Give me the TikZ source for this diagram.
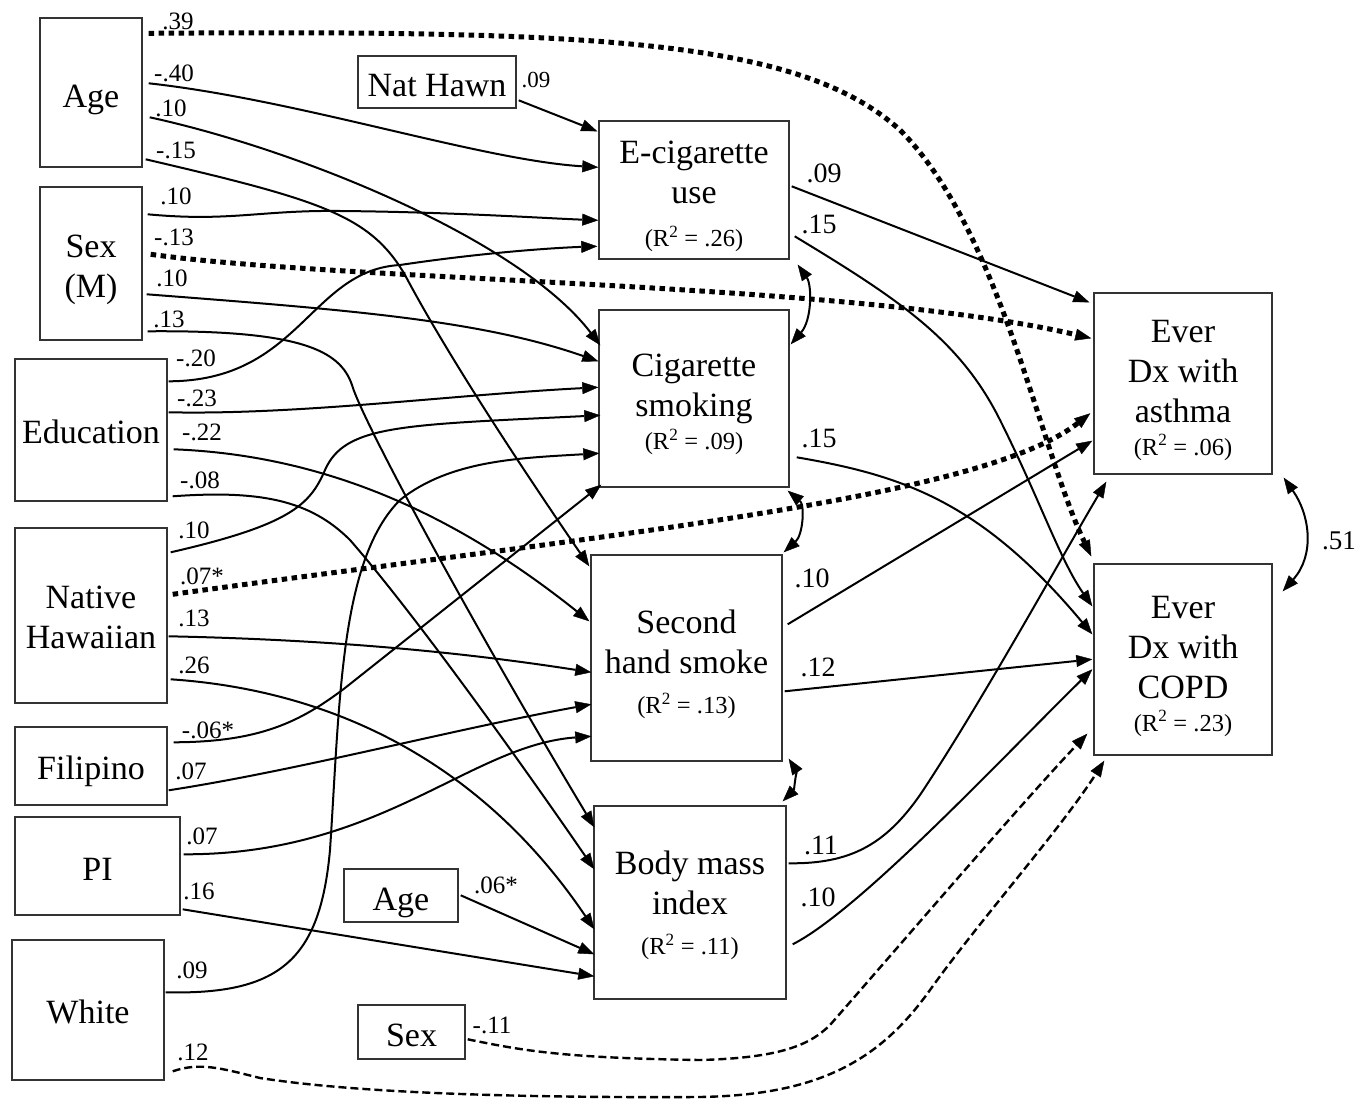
\documentclass[tikz,border=0pt]{standalone}
\usepackage{fontspec}
\setmainfont{Liberation Serif}
\usetikzlibrary{arrows.meta}
\newcommand{\bxf}{\fontsize{34}{40}\selectfont}
\newcommand{\rsqf}{\fontsize{24.5}{34}\selectfont}
\newcommand{\lsf}{\fontsize{25}{28}\selectfont}
\newcommand{\rlf}{\fontsize{28}{32}\selectfont}
\newcommand{\rsqtxt}[1]{{\rsqf (R\textsuperscript{2} = #1)}}
\tikzset{
  >={Triangle[length=16pt,width=12pt,line width=0.4pt]},
  box/.style={draw=black!80, line width=1.4pt, inner sep=0pt},
  btxt/.style={align=center, font=\bxf, inner sep=0pt},
  lab/.style={font=\lsf, inner sep=0pt},
  rlab/.style={font=\rlf, inner sep=0pt},
  conn/.style={line width=2pt, ->},
  dotc/.style={line width=5pt, dash pattern=on 5.5pt off 4.5pt, ->},
  dashc/.style={line width=2.4pt, dash pattern=on 8pt off 4pt, ->},
  bid/.style={line width=2pt, <->}
}
\begin{document}
\begin{tikzpicture}[x=1pt,y=-1pt]
\useasboundingbox (0,0) rectangle (1369,1099);
\fill[white] (0,0) rectangle (1369,1099);

% ---------- boxes ----------
\node[box,minimum width=102pt,minimum height=149pt] (ageA) at (91,92.5) {};
\node[box,minimum width=102pt,minimum height=153pt] (sexA) at (91,263.5) {};
\node[box,minimum width=152pt,minimum height=142pt] (edu) at (91,430) {};
\node[box,minimum width=152pt,minimum height=175pt] (nh) at (91,615.5) {};
\node[box,minimum width=152pt,minimum height=78pt] (fil) at (91,766) {};
\node[box,minimum width=165pt,minimum height=98pt] (pi) at (97.5,866) {};
\node[box,minimum width=152pt,minimum height=140pt] (white) at (88,1010) {};
\node[box,minimum width=158pt,minimum height=52pt] (nathawn) at (437,82) {};
\node[box,minimum width=114pt,minimum height=53pt] (ageB) at (401,895.5) {};
\node[box,minimum width=107pt,minimum height=54pt] (sexB) at (411.5,1032) {};
\node[box,minimum width=190pt,minimum height=138pt] (ecig) at (694,190) {};
\node[box,minimum width=190pt,minimum height=177pt] (cig) at (694,398.5) {};
\node[box,minimum width=191pt,minimum height=206pt] (shs) at (686.5,658) {};
\node[box,minimum width=192pt,minimum height=193pt] (bmi) at (690,902.5) {};
\node[box,minimum width=178pt,minimum height=181pt] (asthma) at (1183,383.5) {};
\node[box,minimum width=178pt,minimum height=191pt] (copd) at (1183,659.5) {};

% ---------- box texts ----------
\node[btxt] (ageAt) at ([shift={(0,7)}]ageA.center) {Age};
\node[btxt] (sexAt) at ([shift={(0,6)}]sexA.center) {Sex\\(M)};
\node[btxt] (edut) at ([shift={(0,2)}]edu.center) {Education};
\node[btxt] (nht) at ([shift={(0,2)}]nh.center) {Native\\Hawaiian};
\node[btxt] (filt) at ([shift={(0,5)}]fil.center) {Filipino};
\node[btxt] (pit) at ([shift={(0,3)}]pi.center) {PI};
\node[btxt] (whitet) at ([shift={(0,2)}]white.center) {White};
\node[btxt] (nathawnt) at ([shift={(0,4)}]nathawn.center) {Nat Hawn};
\node[btxt] (ageBt) at ([shift={(0,7)}]ageB.center) {Age};
\node[btxt] (sexBt) at ([shift={(0,3)}]sexB.center) {Sex};
\node[btxt] (ecigt) at ([shift={(0,6.5)}]ecig.center) {E-cigarette\\use\\[3pt]\rsqtxt{.26}};
\node[btxt] (cigt) at ([shift={(0,5.5)}]cig.center) {Cigarette\\smoking\\[-7pt]\rsqtxt{.09}};
\node[btxt] (shst) at ([shift={(0,6)}]shs.center) {Second\\hand smoke\\\rsqtxt{.13}};
\node[btxt] (bmit) at ([shift={(0,3)}]bmi.center) {Body mass\\index\\\rsqtxt{.11}};
\node[btxt] (asthmat) at ([shift={(0,6.5)}]asthma.center) {Ever\\Dx with\\asthma\\[-7pt]\rsqtxt{.06}};
\node[btxt] (copdt) at ([shift={(0,6.5)}]copd.center) {Ever\\Dx with\\COPD\\[-7pt]\rsqtxt{.23}};

% ---------- Age ----------
\draw[dotc] ([shift={(6,16)}]ageA.north east) .. controls (600,30) and (800,40) .. (900,130) .. controls (1000,230) and (1040,450) .. ([shift={(-2,-7)}]copd.north west);
\draw[conn] ([shift={(6,66)}]ageA.north east) .. controls (300,100) and (480,160) .. ([shift={(0,47)}]ecig.north west);
\draw[conn] ([shift={(7,100)}]ageA.north east) .. controls (300,150) and (520,240) .. ([shift={(2,36)}]cig.north west);
\draw[conn] ([shift={(3,142)}]ageA.north east) .. controls (320,200) and (370,215) .. (405,275) .. controls (450,360) and (530,480) .. ([shift={(-1,12)}]shs.north west);

% ---------- Sex (M) ----------
\draw[conn] ([shift={(5,28)}]sexA.north east) .. controls (230,222) and (260,210) .. (340,211) .. controls (450,212) and (540,218) .. ([shift={(0,100)}]ecig.north west);
\draw[dotc] ([shift={(8,68)}]sexA.north east) .. controls (350,282) and (850,282) .. ([shift={(-2,46)}]asthma.north west);
\draw[conn] ([shift={(4,108)}]sexA.north east) .. controls (350,310) and (480,320) .. ([shift={(0,52)}]cig.north west);
\draw[conn] ([shift={(5,145)}]sexA.north east) .. controls (300,330) and (340,350) .. (352,385) .. controls (362,420) and (470,620) .. ([shift={(1,22)}]bmi.north west);

% ---------- Education ----------
\draw[conn] ([shift={(1,23)}]edu.north east) .. controls (300,381) and (310,270) .. (400,265) .. controls (480,253) and (550,248) .. ([shift={(-1,126)}]ecig.north west);
\draw[conn] ([shift={(1,54)}]edu.north east) .. controls (300,415) and (450,395) .. ([shift={(0,78)}]cig.north west);
\draw[conn] ([shift={(6,91)}]edu.north east) .. controls (320,455) and (450,510) .. ([shift={(-1,67)}]shs.north west);
\draw[conn] ([shift={(5,138)}]edu.north east) .. controls (260,490) and (310,500) .. (350,540) .. controls (420,620) and (540,790) .. ([shift={(1,64)}]bmi.north west);

% ---------- Native Hawaiian ----------
\draw[conn] ([shift={(3,25)}]nh.north east) .. controls (290,525) and (310,505) .. (325,470) .. controls (345,425) and (400,425) .. ([shift={(2,106)}]cig.north west);
\draw[dotc] ([shift={(5,67)}]nh.north east) .. controls (600,535) and (980,500) .. ([shift={(-3,121)}]asthma.north west);
\draw[conn] ([shift={(1,109)}]nh.north east) .. controls (350,640) and (480,655) .. ([shift={(1,118)}]shs.north west);
\draw[conn] ([shift={(3,152)}]nh.north east) .. controls (330,690) and (480,760) .. ([shift={(1,124)}]bmi.north west);

% ---------- Filipino ----------
\draw[conn] ([shift={(6,16)}]fil.north east) .. controls (260,742) and (300,722) .. (345,688) -- ([shift={(3,-3)}]cig.south west);
\draw[conn] ([shift={(1,64)}]fil.north east) .. controls (300,770) and (450,730) .. ([shift={(1,150)}]shs.north west);

% ---------- PI ----------
\draw[conn] ([shift={(3,38)}]pi.north east) .. controls (380,855) and (470,745) .. ([shift={(1,182)}]shs.north west);
\draw[conn] ([shift={(2,93)}]pi.north east) -- ([shift={(1,171)}]bmi.north west);

% ---------- White ----------
\draw[conn] ([shift={(1,53)}]white.north east) .. controls (280,995) and (320,960) .. (330,850) .. controls (340,700) and (340,560) .. (400,500) .. controls (450,460) and (520,458) .. ([shift={(1,144)}]cig.north west);
\draw[dashc] ([shift={(8,132)}]white.north east) .. controls (200,1062) and (220,1068) .. (260,1078) .. controls (350,1092) and (500,1098) .. (700,1097) .. controls (820,1095) and (880,1060) .. (930,990) .. controls (980,920) and (1060,830) .. ([shift={(11,5)}]copd.south west);

% ---------- small covariates ----------
\draw[conn] ([shift={(2,45)}]nathawn.north east) -- ([shift={(-1,11)}]ecig.north west);
\draw[conn] ([shift={(2,27)}]ageB.north east) -- ([shift={(1,149)}]bmi.north west);
\draw[dashc] ([shift={(2,35)}]sexB.north east) .. controls (520,1050) and (560,1058) .. (700,1060) .. controls (780,1058) and (810,1045) .. (830,1025) .. controls (900,945) and (1020,805) .. ([shift={(-6,-22)}]copd.south west);

% ---------- mediators to outcomes ----------
\draw[conn] ([shift={(2,66)}]ecig.north east) -- ([shift={(-4,10)}]asthma.north west);
\draw[conn] ([shift={(5,116)}]ecig.north east) .. controls (900,300) and (960,340) .. (1000,420) .. controls (1040,500) and (1060,560) .. ([shift={(-1,43)}]copd.north west);
\draw[bid] ([shift={(8,5)}]ecig.south east) .. controls (812,285) and (812,320) .. ([shift={(1,35)}]cig.north east);

\draw[conn] ([shift={(7,148)}]cig.north east) .. controls (900,475) and (980,500) .. ([shift={(-1,71)}]copd.north west);
\draw[bid] ([shift={(-2,3)}]cig.south east) .. controls (805,505) and (803,535) .. ([shift={(1,-2)}]shs.north east);

\draw[conn] ([shift={(5,70)}]shs.north east) -- ([shift={(-1,-34)}]asthma.south west);
\draw[conn] ([shift={(2,137)}]shs.north east) -- ([shift={(-1,96)}]copd.north west);
\draw[bid] ([shift={(6,-3)}]shs.south east) .. controls (796,770) and (794,790) .. ([shift={(-4,-4)}]bmi.north east);

\draw[conn] ([shift={(2,58)}]bmi.north east) .. controls (850,864) and (885,845) .. (920,795) .. controls (980,705) and (1060,560) .. ([shift={(13,7)}]asthma.south west);
\draw[conn] ([shift={(6,139)}]bmi.north east) .. controls (860,910) and (1000,760) .. ([shift={(-1,106)}]copd.north west);

\draw[bid] ([shift={(11,3)}]asthma.south east) .. controls (1310,515) and (1315,555) .. ([shift={(10,28)}]copd.north east);

% ---------- coefficient labels ----------
\node[lab] (t39) at (178,21) {.39};
\node[lab] (t40) at (174,73) {-.40};
\node[lab] (tA10) at (171,108) {.10};
\node[lab] (t15a) at (176,150) {-.15};
\node[lab] (tS10a) at (176,196) {.10};
\node[lab] (t13s) at (174,237) {-.13};
\node[lab] (tS10b) at (172,278) {.10};
\node[lab] (tS13) at (169,319) {.13};
\node[lab] (t20) at (196,358) {-.20};
\node[lab] (t23) at (197,398) {-.23};
\node[lab] (t22) at (202,432) {-.22};
\node[lab] (t08) at (200,480) {-.08};
\node[lab] (tN10) at (194,530) {.10};
\node[lab] (tN07) at (202,576) {.07*};
\node[lab] (tN13) at (194,618) {.13};
\node[lab] (tN26) at (194,665) {.26};
\node[lab] (tF06) at (208,730) {-.06*};
\node[lab] (tF07) at (191,771) {.07};
\node[lab] (tP07) at (202,836) {.07};
\node[lab] (tP16) at (199,891) {.16};
\node[lab] (tW09) at (192,970) {.09};
\node[lab] (tW12) at (193,1052) {.12};
\node[lab,font=\fontsize{23}{26}\selectfont] (tNH09) at (536,80) {.09};
\node[lab] (tAB06) at (496,885) {.06*};
\node[lab] (tSB11) at (492,1025) {-.11};
\node[rlab] (tE09) at (824,173) {.09};
\node[rlab] (tE15) at (819,224) {.15};
\node[rlab] (tC15) at (819,438) {.15};
\node[rlab] (tH10) at (812,578) {.10};
\node[rlab] (tH12) at (818,667) {.12};
\node[rlab] (tB11) at (821,845) {.11};
\node[rlab] (tB10) at (818,897) {.10};
\node[rlab,font=\fontsize{27}{30}\selectfont] (t51) at (1339,541) {.51};
\end{tikzpicture}
\end{document}
